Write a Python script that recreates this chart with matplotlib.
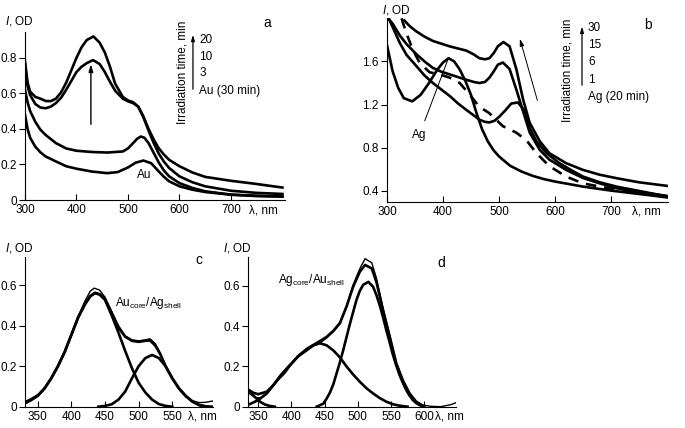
import matplotlib
matplotlib.use('Agg')
import matplotlib.pyplot as plt

plt.rcParams['font.family'] = ['Liberation Sans', 'DejaVu Sans']
plt.rcParams['mathtext.fontset'] = 'custom'
plt.rcParams['mathtext.rm'] = 'Liberation Sans'
plt.rcParams['mathtext.it'] = 'Liberation Sans:italic'
plt.rcParams['font.size'] = 8.5

# ---- panel a: Au seeds + Ag irradiation ----
a20_wl = [300, 305, 310, 320, 330, 340, 350, 360, 370, 380, 390, 400, 410, 420, 433, 445, 455, 465, 475, 490, 500, 510, 520, 530, 540, 550, 560, 570, 580, 600, 625, 650, 700, 750, 800]
a20 = [0.78, 0.66, 0.61, 0.58, 0.57, 0.557, 0.556, 0.57, 0.605, 0.66, 0.73, 0.80, 0.86, 0.90, 0.92, 0.885, 0.83, 0.75, 0.655, 0.58, 0.56, 0.55, 0.525, 0.47, 0.40, 0.34, 0.29, 0.255, 0.226, 0.19, 0.155, 0.13, 0.108, 0.09, 0.07]
a10_wl = [300, 305, 310, 320, 330, 340, 350, 360, 370, 380, 390, 400, 410, 420, 432, 445, 455, 465, 475, 490, 500, 510, 520, 530, 540, 550, 560, 570, 580, 600, 625, 650, 700, 750, 800]
a10 = [0.76, 0.64, 0.59, 0.54, 0.52, 0.516, 0.525, 0.545, 0.575, 0.62, 0.67, 0.72, 0.75, 0.77, 0.787, 0.765, 0.72, 0.665, 0.615, 0.57, 0.555, 0.545, 0.525, 0.465, 0.39, 0.32, 0.26, 0.215, 0.18, 0.133, 0.1, 0.077, 0.052, 0.04, 0.034]
a3_wl = [300, 305, 310, 320, 330, 340, 360, 380, 400, 430, 460, 490, 500, 510, 518, 525, 532, 540, 550, 560, 570, 580, 600, 625, 650, 700, 750, 800]
a3 = [0.62, 0.55, 0.50, 0.44, 0.395, 0.366, 0.32, 0.29, 0.277, 0.27, 0.267, 0.273, 0.29, 0.32, 0.345, 0.357, 0.35, 0.32, 0.265, 0.21, 0.165, 0.133, 0.095, 0.068, 0.049, 0.03, 0.024, 0.02]
aau_wl = [300, 305, 310, 320, 330, 340, 360, 380, 400, 430, 460, 480, 500, 515, 530, 545, 560, 570, 580, 600, 625, 650, 700, 750, 800]
aau = [0.48, 0.40, 0.35, 0.30, 0.268, 0.245, 0.217, 0.19, 0.176, 0.16, 0.151, 0.157, 0.183, 0.21, 0.222, 0.207, 0.16, 0.13, 0.105, 0.077, 0.058, 0.045, 0.03, 0.022, 0.019]
a_legend = ['20', '10', '3', 'Au (30 min)']

# ---- panel b: Ag seeds + Au irradiation ----
bag_wl = [300, 310, 320, 330, 345, 360, 375, 390, 400, 410, 420, 430, 440, 450, 460, 470, 480, 490, 500, 520, 540, 560, 580, 600, 650, 700, 750, 800]
bag = [1.75, 1.51, 1.355, 1.26, 1.23, 1.29, 1.40, 1.525, 1.59, 1.63, 1.60, 1.525, 1.42, 1.29, 1.12, 0.97, 0.86, 0.78, 0.72, 0.633, 0.58, 0.54, 0.51, 0.487, 0.44, 0.403, 0.372, 0.34]
b1_wl = [303, 310, 323, 335, 352, 367, 382, 397, 412, 427, 442, 455, 465, 475, 483, 492, 501, 512, 522, 534, 546, 555, 567, 585, 608, 630, 650, 680, 710, 750, 800]
b1 = [2.0, 1.92, 1.77, 1.66, 1.56, 1.47, 1.40, 1.34, 1.28, 1.21, 1.15, 1.10, 1.06, 1.04, 1.035, 1.05, 1.09, 1.15, 1.21, 1.22, 1.14, 0.98, 0.86, 0.75, 0.657, 0.59, 0.533, 0.48, 0.44, 0.40, 0.35]
b6_wl = [302, 310, 323, 335, 352, 367, 382, 397, 412, 427, 442, 455, 465, 475, 483, 491, 498, 507, 519, 531, 543, 555, 573, 590, 620, 650, 680, 710, 750, 800]
b6 = [2.0, 1.95, 1.84, 1.76, 1.67, 1.60, 1.54, 1.505, 1.48, 1.455, 1.43, 1.41, 1.40, 1.41, 1.45, 1.51, 1.57, 1.59, 1.53, 1.34, 1.14, 0.94, 0.78, 0.69, 0.595, 0.52, 0.47, 0.425, 0.39, 0.353]
b30_wl = [331, 340, 352, 367, 382, 397, 412, 427, 442, 455, 465, 475, 483, 491, 498, 508, 519, 531, 543, 555, 573, 590, 620, 650, 680, 710, 750, 800]
b30 = [1.98, 1.93, 1.88, 1.83, 1.79, 1.765, 1.74, 1.72, 1.70, 1.665, 1.63, 1.62, 1.63, 1.68, 1.74, 1.78, 1.74, 1.53, 1.25, 1.03, 0.86, 0.75, 0.657, 0.595, 0.55, 0.518, 0.48, 0.447]
bd_wl = [326, 334, 346, 358, 376, 394, 412, 430, 448, 465, 483, 507, 531, 549, 567, 590, 620, 650, 680, 710, 750, 800]
bd = [2.0, 1.87, 1.71, 1.59, 1.50, 1.48, 1.45, 1.40, 1.29, 1.18, 1.12, 1.0, 0.94, 0.87, 0.75, 0.63, 0.533, 0.47, 0.44, 0.41, 0.38, 0.35]
b_legend = ['30', '15', '6', '1', 'Ag (20 min)']

# ---- panel c: Au core / Ag shell decomposition ----
c1_wl = [330, 340, 350, 360, 370, 380, 390, 400, 410, 420, 428, 435, 442, 450, 460, 470, 480, 490, 500, 510, 520, 530, 540, 550]
c1 = [0.016, 0.033, 0.054, 0.09, 0.14, 0.2, 0.27, 0.355, 0.44, 0.505, 0.545, 0.56, 0.553, 0.527, 0.45, 0.365, 0.275, 0.19, 0.118, 0.07, 0.035, 0.013, 0.004, 0.0]
c2_wl = [440, 450, 460, 470, 480, 490, 500, 510, 520, 530, 540, 550, 560, 570, 580, 590, 600]
c2 = [0.0, 0.004, 0.012, 0.035, 0.075, 0.14, 0.2, 0.24, 0.255, 0.24, 0.2, 0.14, 0.09, 0.053, 0.025, 0.008, 0.0]
cf_wl = [330, 340, 350, 360, 370, 380, 390, 400, 410, 420, 428, 435, 442, 450, 460, 470, 480, 490, 500, 510, 517, 525, 532, 540, 550, 560, 570, 580, 590, 600, 610]
cf = [0.016, 0.033, 0.054, 0.09, 0.14, 0.2, 0.27, 0.355, 0.44, 0.505, 0.545, 0.562, 0.555, 0.53, 0.46, 0.39, 0.345, 0.325, 0.32, 0.325, 0.327, 0.30, 0.26, 0.2, 0.14, 0.09, 0.053, 0.025, 0.008, 0.002, 0.0]
cm_wl = [331, 340, 350, 360, 370, 380, 390, 400, 410, 420, 428, 434, 442, 450, 460, 470, 480, 490, 500, 510, 517, 525, 532, 540, 550, 560, 570, 580, 590, 600, 610]
cm = [0.025, 0.04, 0.06, 0.092, 0.14, 0.2, 0.27, 0.355, 0.445, 0.52, 0.57, 0.585, 0.575, 0.54, 0.47, 0.40, 0.35, 0.33, 0.325, 0.33, 0.335, 0.31, 0.265, 0.205, 0.14, 0.085, 0.05, 0.03, 0.02, 0.022, 0.028]

# ---- panel d: Ag core / Au shell decomposition ----
d1_wl = [335, 342, 350, 363, 373, 385, 398, 410, 423, 433, 443, 453, 463, 473, 483, 493, 503, 513, 523, 533, 543, 553, 563, 575]
d1 = [0.01, 0.02, 0.033, 0.066, 0.108, 0.16, 0.207, 0.25, 0.28, 0.305, 0.315, 0.305, 0.28, 0.245, 0.2, 0.16, 0.124, 0.092, 0.066, 0.043, 0.025, 0.012, 0.005, 0.0]
d2_wl = [438, 448, 453, 458, 463, 468, 473, 478, 483, 488, 493, 498, 503, 508, 516, 523, 528, 533, 538, 543, 548, 553, 558, 563, 568, 573, 578, 583, 588, 593, 600]
d2 = [0.0, 0.015, 0.04, 0.07, 0.11, 0.165, 0.22, 0.28, 0.345, 0.41, 0.47, 0.53, 0.575, 0.605, 0.62, 0.596, 0.555, 0.505, 0.445, 0.38, 0.32, 0.257, 0.205, 0.157, 0.118, 0.083, 0.055, 0.033, 0.018, 0.008, 0.0]
d3_wl = [335, 340, 345, 350, 355, 360, 367, 375]
d3 = [0.08, 0.065, 0.048, 0.032, 0.02, 0.011, 0.004, 0.0]
df_wl = [335, 342, 350, 363, 373, 385, 398, 410, 423, 433, 443, 453, 463, 473, 483, 493, 503, 511, 521, 528, 538, 548, 558, 568, 578, 588, 598]
df = [0.085, 0.07, 0.062, 0.075, 0.108, 0.16, 0.207, 0.25, 0.285, 0.305, 0.32, 0.345, 0.375, 0.414, 0.497, 0.596, 0.67, 0.704, 0.687, 0.62, 0.48, 0.35, 0.215, 0.13, 0.066, 0.025, 0.005]
dm_wl = [335, 345, 355, 365, 378, 390, 400, 410, 423, 433, 443, 453, 463, 473, 483, 493, 503, 511, 521, 528, 538, 548, 558, 568, 578, 588, 598, 610, 625, 640, 648]
dm = [0.07, 0.045, 0.045, 0.075, 0.125, 0.165, 0.21, 0.255, 0.29, 0.31, 0.33, 0.35, 0.38, 0.42, 0.50, 0.605, 0.685, 0.735, 0.715, 0.64, 0.49, 0.355, 0.22, 0.13, 0.065, 0.025, 0.008, 0.002, 0.0, 0.01, 0.02]

LW = 1.9
K = 'black'

fig = plt.figure(figsize=(6.85, 4.28), dpi=100)


def setup(ax, xlim, ylim, xt, yt, ylabels, lam_x, lab, lab_xy, od_xy):
    ax.set_xlim(*xlim)
    ax.set_ylim(*ylim)
    for s in ['top', 'right']:
        ax.spines[s].set_visible(False)
    for s in ['left', 'bottom']:
        ax.spines[s].set_linewidth(0.8)
    ax.set_xticks(xt)
    ax.set_xticklabels([str(t) for t in xt])
    ax.set_yticks(yt)
    ax.set_yticklabels(ylabels)
    ax.tick_params(axis='x', direction='in', length=4, width=0.8, pad=3)
    ax.tick_params(axis='y', direction='out', length=4, width=0.8, pad=2)
    ax.annotate('\u03bb, nm', xy=(lam_x, 0), xycoords=('data', 'axes fraction'),
                xytext=(0, -3), textcoords='offset points', ha='left', va='top',
                fontsize=8.5)
    ax.text(lab_xy[0], lab_xy[1], lab, transform=ax.transAxes, fontsize=10,
            ha='center', va='center')
    ax.text(od_xy[0], od_xy[1], r'$\it{I}$, OD', transform=ax.transAxes,
            ha='left', va='center', fontsize=8.5)


# panel a
ax = fig.add_axes([25/685, 228/428, 260/685, 168/428])
for wl, v in [(a20_wl, a20), (a10_wl, a10), (a3_wl, a3), (aau_wl, aau)]:
    ax.plot(wl, v, color=K, lw=LW, solid_joinstyle='round')
setup(ax, (300, 805), (0, 0.945), [300, 400, 500, 600, 700], [0, 0.2, 0.4, 0.6, 0.8],
      ['0', '0.2', '0.4', '0.6', '0.8'], 735, 'a', (0.93, 1.055), (-0.077, 1.065))
ax.annotate('', xy=(428, 0.78), xytext=(428, 0.41),
            arrowprops=dict(arrowstyle='-|>,head_length=0.5,head_width=0.15', lw=1.0, color=K))
ax.text(532, 0.14, 'Au', ha='center', va='center')
ax.text(0.604, 0.76, 'Irradiation time, min', rotation=90, transform=ax.transAxes,
        ha='center', va='center', clip_on=False)
ax.annotate('', xy=(0.646, 1.0), xytext=(0.646, 0.643), xycoords='axes fraction',
            arrowprops=dict(arrowstyle='-|>,head_length=0.4,head_width=0.12', lw=0.9, color=K))
for lbl, y in zip(a_legend, [0.952, 0.851, 0.756, 0.649]):
    ax.text(0.67, y, lbl, transform=ax.transAxes, ha='left', va='center')

# panel b
ax = fig.add_axes([387/685, 226.3/428, 281/685, 183.4/428])
for wl, v in [(bag_wl, bag), (b1_wl, b1), (b6_wl, b6), (b30_wl, b30)]:
    ax.plot(wl, v, color=K, lw=LW, solid_joinstyle='round')
ax.plot(bd_wl, bd, color=K, lw=LW, dashes=(4, 3))
setup(ax, (300, 802), (0.3, 2.0), [300, 400, 500, 600, 700], [0.4, 0.8, 1.2, 1.6],
      ['0.4', '0.8', '1.2', '1.6'], 737, 'b', (0.929, 0.963), (-0.018, 1.045))
ax.annotate('', xy=(536, 1.835), xytext=(570, 1.215),
            arrowprops=dict(arrowstyle='-|>,head_length=0.5,head_width=0.15', lw=0.7, color=K))
ax.annotate('Ag', xy=(409, 1.62), xytext=(358, 0.92), ha='center', va='center',
            arrowprops=dict(arrowstyle='-', lw=0.7, color=K, shrinkA=4, shrinkB=0))
ax.text(0.644, 0.718, 'Irradiation time, min', rotation=90, transform=ax.transAxes,
        ha='center', va='center', clip_on=False)
ax.annotate('', xy=(0.694, 0.97), xytext=(0.694, 0.62), xycoords='axes fraction',
            arrowprops=dict(arrowstyle='-|>,head_length=0.4,head_width=0.12', lw=0.9, color=K))
for lbl, y in zip(b_legend, [0.947, 0.854, 0.762, 0.664, 0.571]):
    ax.text(0.715, y, lbl, transform=ax.transAxes, ha='left', va='center')

# panel c
ax = fig.add_axes([25/685, 21.3/428, 188.3/685, 150/428])
ax.plot(cm_wl, cm, color=K, lw=1.0)
for wl, v in [(c1_wl, c1), (c2_wl, c2), (cf_wl, cf)]:
    ax.plot(wl, v, color=K, lw=LW, solid_joinstyle='round')
setup(ax, (331, 611), (0, 0.74), [350, 400, 450, 500, 550], [0, 0.2, 0.4, 0.6],
      ['0', '0.2', '0.4', '0.6'], 574, 'c', (0.924, 0.978), (-0.106, 1.058))
ax.text(465, 0.51, r'Au$_{\rm core}$/Ag$_{\rm shell}$', ha='left', va='center')

# panel d
ax = fig.add_axes([248.3/685, 21.3/428, 207.7/685, 150/428])
ax.plot(dm_wl, dm, color=K, lw=1.0)
for wl, v in [(d1_wl, d1), (d2_wl, d2), (d3_wl, d3), (df_wl, df)]:
    ax.plot(wl, v, color=K, lw=LW, solid_joinstyle='round')
setup(ax, (335, 648), (0, 0.745), [350, 400, 450, 500, 550, 600], [0, 0.2, 0.4, 0.6],
      ['0', '0.2', '0.4', '0.6'], 616, 'd', (0.931, 0.956), (-0.123, 1.058))
ax.text(380, 0.627, r'Ag$_{\rm core}$/Au$_{\rm shell}$', ha='left', va='center')

fig.savefig('out.png', dpi=100)
